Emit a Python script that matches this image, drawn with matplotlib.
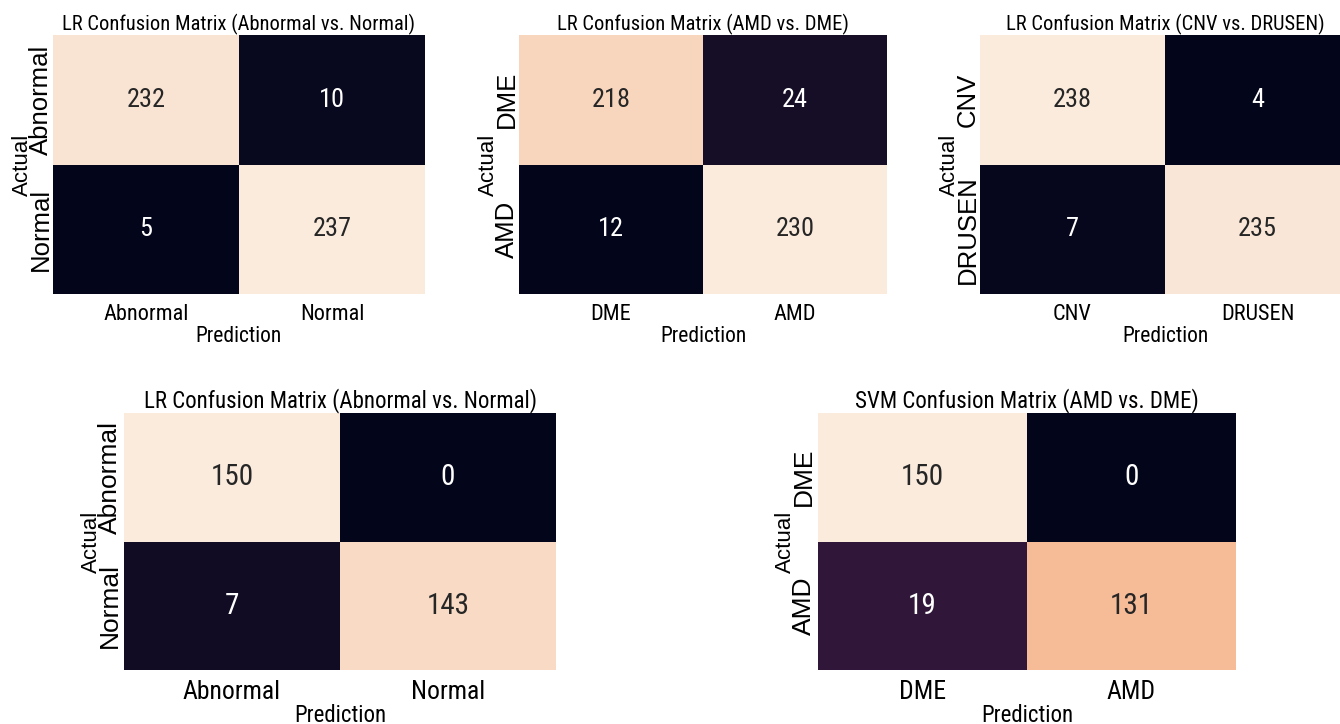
import numpy as np
import matplotlib
matplotlib.use("Agg")
import matplotlib.pyplot as plt
import seaborn as sns

# confusion matrices
titles = ["LR Confusion Matrix (Abnormal vs. Normal)",
          "LR Confusion Matrix (AMD vs. DME)",
          "LR Confusion Matrix (CNV vs. DRUSEN)",
          "LR Confusion Matrix (Abnormal vs. Normal)",
          "SVM Confusion Matrix (AMD vs. DME)"]
labels = [["Abnormal", "Normal"],
          ["DME", "AMD"],
          ["CNV", "DRUSEN"],
          ["Abnormal", "Normal"],
          ["DME", "AMD"]]
cm1 = [[232, 10], [5, 237]]
cm2 = [[218, 24], [12, 230]]
cm3 = [[238, 4], [7, 235]]
cm4 = [[150, 0], [7, 143]]
cm5 = [[150, 0], [19, 131]]
mats = [cm1, cm2, cm3, cm4, cm5]

W, H = 1340, 724
# heatmap boxes in pixels: left, top, right, bottom
boxes = [(53, 35, 425, 294),
         (519, 35, 887, 294),
         (980, 35, 1350, 294),
         (124, 413, 556, 670),
         (818, 413, 1236, 670)]

narrow = "Roboto Condensed"
wide = "Liberation Sans"

fig = plt.figure(figsize=(W / 100, H / 100), dpi=100)

for i in range(5):
    l, t, r, b = boxes[i]
    ax = fig.add_axes([l / W, 1 - b / H, (r - l) / W, (b - t) / H])
    big = i >= 3
    sns.heatmap(np.array(mats[i]), annot=True, fmt="d", cmap="rocket", cbar=False,
                xticklabels=labels[i], yticklabels=labels[i], ax=ax,
                annot_kws={"fontsize": 21 if big else 19, "family": narrow})
    ax.set_title(titles[i], fontsize=16.5 if big else 14.8, family=narrow, pad=3)
    ax.tick_params(axis="x", length=0, pad=7)
    ax.tick_params(axis="y", length=0, pad=1.5 if big else 0)
    for lab in ax.get_xticklabels():
        lab.set_family(narrow)
        lab.set_fontsize(18.5 if big else 16)
    for lab in ax.get_yticklabels():
        lab.set_family(wide)
        lab.set_fontsize(19 if big else 18.5)
        lab.set_rotation(90)
        lab.set_va("center")
    ax.set_xlabel("Prediction", family=narrow, fontsize=16.5 if big else 15.5,
                  labelpad=0 if big else 1)
    ax.set_ylabel("Actual", family=wide, fontsize=16, labelpad=-3)

fig.savefig("out.png", dpi=100)
